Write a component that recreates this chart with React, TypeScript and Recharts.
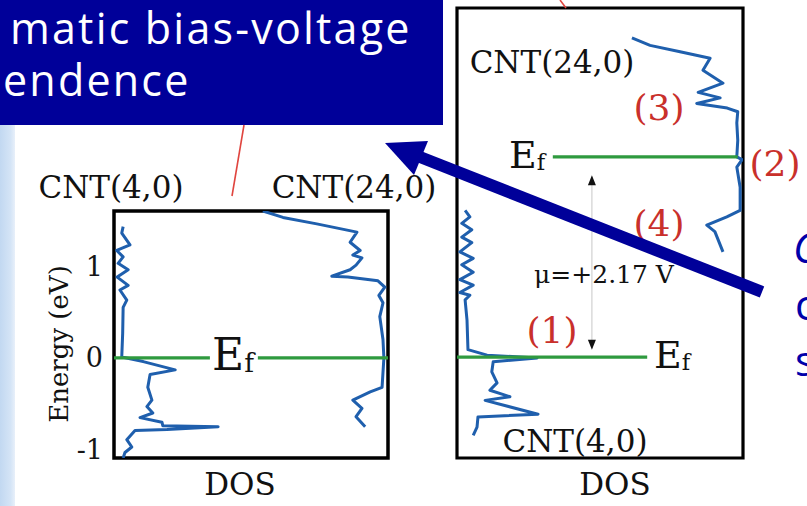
import { ComposedChart, Line, XAxis, YAxis, ReferenceArea, ReferenceDot } from 'recharts';

type Pt = { dos: number; e: number };

const SERIF = '"DejaVu Serif", "Liberation Serif", serif';
const HAND = '"Open Sans", "Noto Sans", sans-serif';
const CURVE = '#1f5fad';
const FERMI = '#2f9a3f';
const NUM_RED = '#c9302b';
const SLIDE_BLUE = '#000099';

// applied bias between the two tubes (eV)
const BIAS = 2.17;

const DOS_DOMAIN: [number, number] = [0, 6];
const DOS_TICKS = [1, 2, 3, 4, 5];
const LEFT_E_DOMAIN: [number, number] = [-1.09, 1.6];
const LEFT_E_TICKS = [-1, 0, 1];
const RIGHT_E_DOMAIN: [number, number] = [-1.095, 3.785];
const RIGHT_E_TICKS = [-0.55, 0, 0.54, 1.08, 1.63, 2.17, 2.71, 3.25];

// zero bias: CNT(4,0) grows from the left edge
const leftCnt4: Pt[] = [
  { dos: 0.2, e: 1.43 }, { dos: 0.17, e: 1.36 }, { dos: 0.35, e: 1.23 }, { dos: 0.06, e: 1.17 },
  { dos: 0.2, e: 1.1 }, { dos: 0.09, e: 1.03 }, { dos: 0.31, e: 0.96 }, { dos: 0.07, e: 0.88 },
  { dos: 0.31, e: 0.79 }, { dos: 0.13, e: 0.74 }, { dos: 0.28, e: 0.63 }, { dos: 0.2, e: 0.55 },
  { dos: 0.19, e: 0.27 }, { dos: 0.17, e: 0.01 }, { dos: 0.64, e: -0.04 }, { dos: 1.34, e: -0.13 },
  { dos: 0.79, e: -0.18 }, { dos: 0.74, e: -0.32 }, { dos: 0.83, e: -0.46 }, { dos: 0.72, e: -0.53 },
  { dos: 0.85, e: -0.6 }, { dos: 0.57, e: -0.65 }, { dos: 1.05, e: -0.7 }, { dos: 1.07, e: -0.74 },
  { dos: 2.28, e: -0.75 }, { dos: 1.16, e: -0.78 }, { dos: 0.46, e: -0.79 }, { dos: 0.28, e: -0.89 },
  { dos: 0.39, e: -0.97 }, { dos: 0.24, e: -1.03 }, { dos: 0.2, e: -1.09 },
];

// zero bias: CNT(24,0) hangs from the right edge
const leftCnt24: Pt[] = [
  { dos: 3.26, e: 1.6 }, { dos: 3.7, e: 1.53 }, { dos: 4.44, e: 1.46 }, { dos: 5.32, e: 1.37 },
  { dos: 5.17, e: 1.26 }, { dos: 5.39, e: 1.17 }, { dos: 5.23, e: 1.12 }, { dos: 5.43, e: 1.09 },
  { dos: 5.3, e: 1.01 }, { dos: 5.17, e: 0.96 }, { dos: 4.77, e: 0.89 }, { dos: 5.12, e: 0.88 },
  { dos: 5.78, e: 0.84 }, { dos: 5.93, e: 0.77 }, { dos: 5.8, e: 0.68 }, { dos: 5.89, e: 0.6 },
  { dos: 5.82, e: 0.45 }, { dos: 5.89, e: 0.2 }, { dos: 5.91, e: 0 }, { dos: 5.87, e: -0.32 },
  { dos: 5.61, e: -0.37 }, { dos: 5.23, e: -0.46 }, { dos: 5.43, e: -0.55 }, { dos: 5.3, e: -0.64 },
  { dos: 5.5, e: -0.75 },
];

// biased: CNT(4,0), energies relative to its own Fermi level
const rightCnt4: Pt[] = [
  { dos: 0.17, e: 1.59 }, { dos: 0.27, e: 1.52 }, { dos: 0.1, e: 1.45 }, { dos: 0.31, e: 1.38 },
  { dos: 0.1, e: 1.3 }, { dos: 0.31, e: 1.24 }, { dos: 0.06, e: 1.14 }, { dos: 0.34, e: 1.07 },
  { dos: 0.1, e: 1.0 }, { dos: 0.34, e: 0.92 }, { dos: 0.06, e: 0.84 }, { dos: 0.34, e: 0.78 },
  { dos: 0.06, e: 0.7 }, { dos: 0.27, e: 0.67 }, { dos: 0.17, e: 0.62 }, { dos: 0.21, e: 0.4 },
  { dos: 0.23, e: 0.08 }, { dos: 0.63, e: 0.02 }, { dos: 1.68, e: -0.01 }, { dos: 0.76, e: -0.05 },
  { dos: 0.73, e: -0.16 }, { dos: 0.84, e: -0.28 }, { dos: 0.69, e: -0.36 }, { dos: 1.11, e: -0.43 },
  { dos: 0.59, e: -0.47 }, { dos: 1.7, e: -0.62 }, { dos: 0.44, e: -0.65 }, { dos: 0.42, e: -0.76 },
  { dos: 0.34, e: -0.85 },
];

// biased: CNT(24,0), energies relative to its own Fermi level (shifted up by BIAS)
const rightCnt24Rel: Pt[] = [
  { dos: 3.67, e: 1.29 }, { dos: 4.05, e: 1.21 }, { dos: 4.68, e: 1.14 }, { dos: 5.31, e: 1.07 },
  { dos: 5.16, e: 0.94 }, { dos: 5.58, e: 0.8 }, { dos: 5.06, e: 0.7 }, { dos: 5.52, e: 0.64 },
  { dos: 5.03, e: 0.58 }, { dos: 5.67, e: 0.53 }, { dos: 5.89, e: 0.49 }, { dos: 5.87, e: 0.37 },
  { dos: 5.89, e: 0.18 }, { dos: 5.87, e: 0 }, { dos: 5.98, e: -0.03 }, { dos: 5.87, e: -0.11 },
  { dos: 5.94, e: -0.33 }, { dos: 5.94, e: -0.58 }, { dos: 5.66, e: -0.65 }, { dos: 5.24, e: -0.74 },
  { dos: 5.41, e: -0.81 }, { dos: 5.58, e: -1.03 },
];
const rightCnt24 = rightCnt24Rel.map((p) => ({ dos: p.dos, e: p.e + BIAS }));

// Fermi-level segments (gap left for the E_f label in the zero-bias panel)
const leftFermiA: Pt[] = [{ dos: 0, e: 0 }, { dos: 2.1, e: 0 }];
const leftFermiB: Pt[] = [{ dos: 3.15, e: 0 }, { dos: 6, e: 0 }];
const rightFermi4: Pt[] = [{ dos: 0, e: 0 }, { dos: 3.99, e: 0 }];
const rightFermi24: Pt[] = [{ dos: 2.01, e: BIAS }, { dos: 5.89, e: BIAS }];
const biasArrow: Pt[] = [{ dos: 2.83, e: 0.1 }, { dos: 2.83, e: BIAS - 0.22 }];

const curve = (data: Pt[], key: string) => (
  <Line
    key={key}
    xAxisId="b"
    yAxisId="e"
    data={data}
    dataKey="e"
    type="linear"
    stroke={CURVE}
    strokeWidth={3}
    strokeLinejoin="round"
    dot={false}
    isAnimationActive={false}
  />
);

const fermi = (data: Pt[], key: string) => (
  <Line
    key={key}
    xAxisId="b"
    yAxisId="e"
    data={data}
    dataKey="e"
    type="linear"
    stroke={FERMI}
    strokeWidth={3.2}
    dot={false}
    isAnimationActive={false}
  />
);

function dosAxes(eDomain: [number, number], inTicks: number[], inColor: string, inSize: number) {
  return [
    <XAxis key="xb" xAxisId="b" dataKey="dos" type="number" domain={DOS_DOMAIN} allowDataOverflow
      ticks={DOS_TICKS} orientation="bottom" mirror height={0} tick={false} axisLine={false}
      tickLine={{ stroke: '#b5b5b5', strokeWidth: 1.2 }} tickSize={6} />,
    <XAxis key="xt" xAxisId="t" dataKey="dos" type="number" domain={DOS_DOMAIN} allowDataOverflow
      ticks={DOS_TICKS} orientation="top" mirror height={0} tick={false} axisLine={false}
      tickLine={{ stroke: '#b5b5b5', strokeWidth: 1.2 }} tickSize={6} />,
    <YAxis key="yin" yAxisId="in" type="number" domain={eDomain} allowDataOverflow ticks={inTicks}
      orientation="left" mirror width={0} tick={false} axisLine={false}
      tickLine={{ stroke: inColor, strokeWidth: 1.4 }} tickSize={inSize} />,
  ];
}

const arrowHead = (up: boolean) => (p: any) => {
  const { cx, cy } = p;
  const d = up ? 10 : -10;
  return <polygon points={`${cx},${cy} ${cx - 4},${cy + d} ${cx + 4},${cy + d}`} fill="#111" />;
};

function ZeroBiasPanel() {
  return (
    <ComposedChart width={420} height={336} margin={{ top: 41, right: 32, bottom: 48, left: 74 }}>
      {dosAxes(LEFT_E_DOMAIN, [-1, 1], '#222', 12)}
      <YAxis yAxisId="e" dataKey="e" type="number" domain={LEFT_E_DOMAIN} allowDataOverflow
        ticks={LEFT_E_TICKS} width={40} axisLine={false} tickLine={false} tickSize={6} tickMargin={5}
        tick={{ fill: '#161616', fontSize: 27, fontFamily: SERIF }} />
      {curve(leftCnt4, 'c4')}
      {curve(leftCnt24, 'c24')}
      {fermi(leftFermiA, 'fa')}
      {fermi(leftFermiB, 'fb')}
      <ReferenceArea xAxisId="b" yAxisId="e" x1={DOS_DOMAIN[0]} x2={DOS_DOMAIN[1]}
        y1={LEFT_E_DOMAIN[0]} y2={LEFT_E_DOMAIN[1]} fill="none" stroke="#000" strokeWidth={3.5}
        ifOverflow="visible" />
    </ComposedChart>
  );
}

function BiasedPanel() {
  return (
    <ComposedChart width={330} height={506} margin={{ top: 8, right: 27, bottom: 48, left: 17 }}>
      {dosAxes(RIGHT_E_DOMAIN, RIGHT_E_TICKS, '#c4c4c4', 6)}
      <YAxis yAxisId="e" dataKey="e" type="number" domain={RIGHT_E_DOMAIN} allowDataOverflow hide />
      {curve(rightCnt4, 'c4')}
      {curve(rightCnt24, 'c24')}
      <Line xAxisId="b" yAxisId="e" data={biasArrow} dataKey="e" type="linear" stroke="#d0d0d0"
        strokeWidth={1.2} dot={false} isAnimationActive={false} />
      <ReferenceDot xAxisId="b" yAxisId="e" x={2.83} y={BIAS - 0.2} r={0} ifOverflow="visible"
        shape={arrowHead(true)} />
      <ReferenceDot xAxisId="b" yAxisId="e" x={2.83} y={0.08} r={0} ifOverflow="visible"
        shape={arrowHead(false)} />
      {fermi(rightFermi4, 'f4')}
      {fermi(rightFermi24, 'f24')}
      <ReferenceArea xAxisId="b" yAxisId="e" x1={DOS_DOMAIN[0]} x2={DOS_DOMAIN[1]}
        y1={RIGHT_E_DOMAIN[0]} y2={RIGHT_E_DOMAIN[1]} fill="none" stroke="#000" strokeWidth={3.2}
        ifOverflow="visible" />
    </ComposedChart>
  );
}

const Ef = ({ x, y, size }: { x: number; y: number; size: number }) => (
  <text x={x} y={y} fontFamily={SERIF} fontSize={size} fill="#111">
    E<tspan fontSize={size * 0.6} dy={2}>f</tspan>
  </text>
);

const Num = ({ x, y, n }: { x: number; y: number; n: number }) => (
  <text x={x} y={y} fontFamily={SERIF} fontSize={36} fill={NUM_RED} textAnchor="middle">
    ({n})
  </text>
);

export default function App() {
  return (
    <div style={{ position: 'fixed', left: 0, top: 0, width: 807, height: 506, overflow: 'hidden', background: '#fff' }}>
      <div style={{ position: 'absolute', left: 0, top: 125, width: 15, height: 381,
        background: 'linear-gradient(90deg, #c2d8f1 0%, #d4e4f6 70%, #e8f0fa 100%)' }} />

      <div style={{ position: 'absolute', left: 0, top: 0, width: 443, height: 125, background: SLIDE_BLUE,
        color: '#fff', fontFamily: HAND, fontSize: 43, letterSpacing: 2.2, lineHeight: '48px' }}>
        <div style={{ position: 'absolute', left: 10, top: 4, whiteSpace: 'nowrap' }}>matic bias-voltage</div>
        <div style={{ position: 'absolute', left: 3, top: 56, whiteSpace: 'nowrap' }}>endence</div>
      </div>

      <div style={{ position: 'absolute', left: 0, top: 170 }}>
        <ZeroBiasPanel />
      </div>
      <div style={{ position: 'absolute', left: 440, top: 0 }}>
        <BiasedPanel />
      </div>

      <svg width={807} height={506} style={{ position: 'absolute', left: 0, top: 0, pointerEvents: 'none' }}>
        <g fontFamily={SERIF} fill="#111">
          <text x={111} y={198} fontSize={31} textAnchor="middle">CNT(4,0)</text>
          <text x={354} y={198} fontSize={31} textAnchor="middle">CNT(24,0)</text>
          <text x={240} y={495} fontSize={31} textAnchor="middle">DOS</text>
          <text x={68} y={344} fontSize={26} textAnchor="middle" transform="rotate(-90 68 344)">Energy (eV)</text>
          <text x={552} y={73} fontSize={31} textAnchor="middle">CNT(24,0)</text>
          <text x={575} y={452} fontSize={31} textAnchor="middle">CNT(4,0)</text>
          <text x={615} y={495} fontSize={31} textAnchor="middle">DOS</text>
          <text x={604} y={283} fontSize={25} textAnchor="middle">{`μ=+${BIAS.toFixed(2)} V`}</text>
        </g>
        <Ef x={212} y={370} size={44} />
        <Ef x={509} y={168} size={38} />
        <Ef x={654} y={368} size={38} />
        <Num x={552} y={343} n={1} />
        <Num x={775} y={176} n={2} />
        <Num x={659} y={120} n={3} />
        <Num x={659} y={236} n={4} />

        <line x1={244} y1={125} x2={232} y2={196} stroke="#e0453f" strokeWidth={1.6} />
        <line x1={560} y1={0} x2={566} y2={8} stroke="#e0453f" strokeWidth={1.6} />

        <g fontFamily={HAND} fontSize={42} fill="#0000aa">
          <text x={793} y={263} fontStyle="italic">C</text>
          <text x={795} y={320}>c</text>
          <text x={795} y={376}>s</text>
        </g>

        <line x1={762} y1={292} x2={420} y2={157} stroke={SLIDE_BLUE} strokeWidth={12} />
        <polygon points="385,143 428,141 414,175" fill={SLIDE_BLUE} />
      </svg>
    </div>
  );
}
